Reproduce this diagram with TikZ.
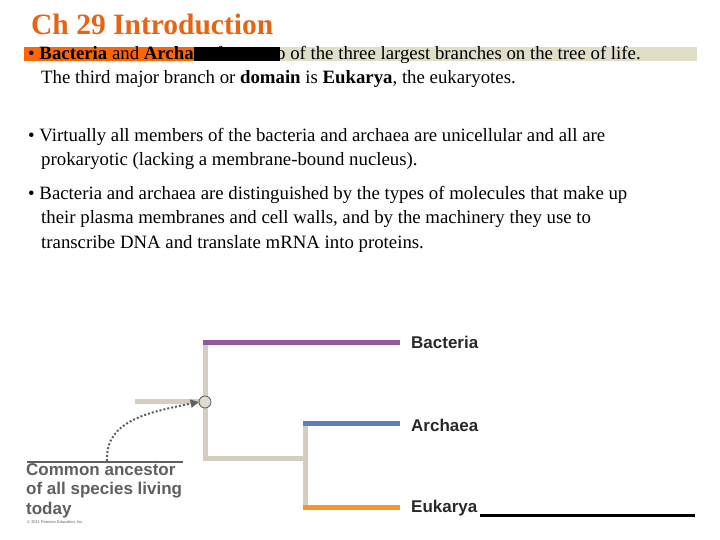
\documentclass[tikz,border=0pt]{standalone}
\usepackage{fontspec}
\setmainfont{Liberation Serif}
\newfontfamily\lsans{Liberation Sans}
\usetikzlibrary{arrows.meta}
\definecolor{ttl}{RGB}{230,100,20}
\definecolor{bar1}{RGB}{255,102,0}
\definecolor{beige}{RGB}{225,222,200}
\definecolor{branch}{RGB}{212,205,192}
\definecolor{purp}{RGB}{150,85,160}
\definecolor{blu}{RGB}{95,125,190}
\definecolor{orng}{RGB}{245,150,40}
\definecolor{lbl}{RGB}{40,40,40}
\definecolor{capgray}{RGB}{95,95,95}
\tikzset{
 body/.style={anchor=base west,inner sep=0pt,font=\fontsize{18.8}{24.3}\selectfont,align=left},
 br/.style={line width=5pt,branch},
 lab/.style={anchor=west,inner sep=0pt,font=\lsans\bfseries\fontsize{17}{18}\selectfont,text=lbl},
}
\begin{document}
\begin{tikzpicture}[x=1pt,y=-1pt]
\useasboundingbox (0,0) rectangle (720,540);
\node[anchor=base west,inner sep=0pt,text=ttl,font=\bfseries\fontsize{29.5}{32}\selectfont] (title) at (31,35) {Ch 29 Introduction};
\fill[bar1] (24,47) rectangle (194,61);
\fill[black] (194,47) rectangle (280,61);
\fill[beige] (280,47) rectangle (697,61);
\node[body] (b1) at (28,84) {\textbullet\ \textbf{Bacteria} and \textbf{Archaea} form two of the three largest branches on the tree of life.\\\hspace*{13pt}The third major branch or \textbf{domain} is \textbf{Eukarya}, the eukaryotes.};
\node[body] (b2) at (28,166) {\textbullet\ Virtually all members of the bacteria and archaea are unicellular and all are\\\hspace*{13pt}prokaryotic (lacking a membrane-bound nucleus).};
\node[body] (b3) at (28,248) {\textbullet\ Bacteria and archaea are distinguished by the types of molecules that make up\\\hspace*{13pt}their plasma membranes and cell walls, and by the machinery they use to\\\hspace*{13pt}transcribe DNA and translate mRNA into proteins.};
% tree
\coordinate (stub) at (135,401);
\coordinate (root) at (205,401);
\coordinate (btop) at (205,342);
\coordinate (bbot) at (205,458);
\coordinate (sub) at (305,458);
\coordinate (atop) at (305,423);
\coordinate (ebot) at (305,507);
\draw[br] (stub) -- (root);
\draw[br] (btop) -- (bbot) -- (sub);
\draw[br] (atop) -- (ebot);
\node[lab] (bac) at (411,342) {Bacteria};
\node[lab] (arc) at (411,425) {Archaea};
\node[lab] (euk) at (411,508) {Eukarya};
\draw[line width=5pt,purp] (203,342) -- (400,342);
\draw[line width=5pt,blu] (303,423) -- (400,423);
\draw[line width=5pt,orng] (303,507) -- (400,507);
\node[circle,draw=black!70,fill=branch!70!white,minimum size=12pt,inner sep=0pt,line width=0.7pt] (anc) at (205,402) {};
\draw[black,line width=3pt] (480,515) -- (695,515);
% caption
\draw[capgray,line width=1.3pt] (27,462) -- (183,462);
\coordinate (cs) at (107,461);
\draw[capgray,line width=2pt,dotted,-{Triangle[length=8pt,width=8pt]}] (cs) .. controls (105,420) and (150,412) .. (anc.west);
\node[anchor=north west,inner sep=0pt,align=left,text=capgray,font=\lsans\bfseries\fontsize{17}{19.5}\selectfont] (captxt) at (26,463) {Common ancestor\\of all species living\\today};
\node[anchor=west,inner sep=0pt,text=capgray,font=\lsans\fontsize{4}{4}\selectfont] (copy) at (27,522) {© 2011 Pearson Education, Inc.};
\end{tikzpicture}
\end{document}
